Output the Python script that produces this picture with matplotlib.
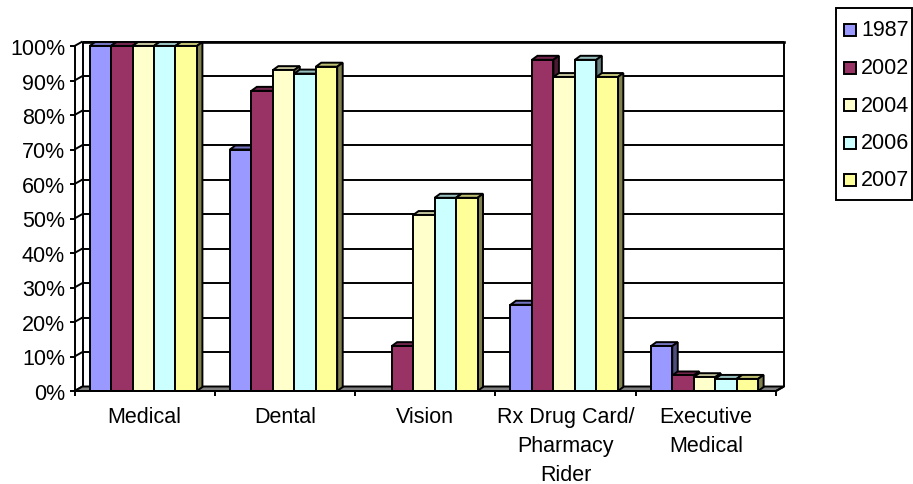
import matplotlib
matplotlib.use("Agg")
import matplotlib.pyplot as plt
from matplotlib.patches import Polygon, Rectangle
from matplotlib.colors import to_rgb

plt.rcParams['font.family'] = ['Liberation Sans', 'DejaVu Sans']

# ---- data ---------------------------------------------------------------
categories = ["Medical", "Dental", "Vision", "Rx Drug Card/\nPharmacy\nRider",
              "Executive\nMedical"]
years = ["1987", "2002", "2004", "2006", "2007"]
share_1987 = [100, 70, 0, 25, 13]
share_2002 = [100, 87, 13, 96, 4.5]
share_2004 = [100, 93, 51, 91, 4]
share_2006 = [100, 92, 56, 96, 3.5]
share_2007 = [100, 94, 56, 91, 3.5]
series = [share_1987, share_2002, share_2004, share_2006, share_2007]
colors = ["#9999FF", "#993366", "#FFFFCC", "#CCFFFF", "#FFFF99"]
yticks = list(range(0, 101, 10))

# ---- figure / axes in pixel layout ----------------------------------------
W, H, DPI = 913, 485, 100
fig = plt.figure(figsize=(W / DPI, H / DPI), dpi=DPI)
ax_l, ax_r, ax_b, ax_t = 74.5, 776.0, 392.0, 47.0
ax = fig.add_axes([ax_l / W, (H - ax_b) / H, (ax_r - ax_l) / W, (ax_b - ax_t) / H])
xmin, xmax, ymin, ymax = -0.5, len(categories) - 0.5, 0, 100
ax.set_xlim(xmin, xmax)
ax.set_ylim(ymin, ymax)

px_x = (xmax - xmin) / (ax_r - ax_l)
px_y = (ymax - ymin) / (ax_b - ax_t)

# depth offsets (oblique projection) for walls and for the columns
WDX, WDY = 8 * px_x, 4.5 * px_y
BDX, BDY = 5.5 * px_x, 4.0 * px_y

LW = 1.4
FS = 15.5
kw = dict(color="black", lw=LW, clip_on=False, solid_capstyle="butt")

# back wall gridlines and side-wall diagonals
for v in yticks:
    ax.plot([xmin + WDX, xmax + WDX], [v + WDY, v + WDY], zorder=1, **kw)
    ax.plot([xmin, xmin + WDX], [v, v + WDY], zorder=1, **kw)
ax.plot([xmin + WDX, xmax + WDX], [100 + WDY, 100 + WDY], color="black",
        lw=1.9, clip_on=False, zorder=1)
ax.plot([xmin + WDX, xmin + WDX], [WDY, 100 + WDY], zorder=1, **kw)
ax.plot([xmax + WDX, xmax + WDX], [WDY, 100 + WDY], zorder=1, **kw)

# floor
ax.add_patch(Polygon([(xmin, 0), (xmax, 0), (xmax + WDX, WDY), (xmin + WDX, WDY)],
                     closed=True, facecolor="#808080", edgecolor="black",
                     lw=LW, clip_on=False, zorder=2))

# columns
w = 0.153
shift = -0.01
xs = list(range(len(categories)))
for k, (vals, col) in enumerate(zip(series, colors)):
    rgb = to_rgb(col)
    top_c = tuple(c * 0.75 for c in rgb)
    side_c = tuple(c * 0.5 for c in rgb)
    z = 3 + k * 0.2
    lefts = [x - 2.5 * w + k * w + shift for x in xs]
    hs = [v if v > 0 else 0 for v in vals]
    bars = ax.bar(lefts, hs, width=w, align="edge", color=col, edgecolor="black",
                  linewidth=LW, zorder=z + 0.1, clip_on=False)
    for bar, v in zip(bars, vals):
        if v <= 0:
            bar.set_visible(False)
            continue
        x0 = bar.get_x()
        x1 = x0 + bar.get_width()
        top = bar.get_height()
        ax.add_patch(Polygon([(x0, top), (x1, top), (x1 + BDX, top + BDY),
                              (x0 + BDX, top + BDY)], closed=True,
                             facecolor=top_c, edgecolor="black", lw=LW,
                             clip_on=False, zorder=z))
        ax.add_patch(Polygon([(x1, 0), (x1 + BDX, BDY), (x1 + BDX, top + BDY),
                              (x1, top)], closed=True, facecolor=side_c,
                             edgecolor="black", lw=LW, clip_on=False, zorder=z))

# front right floor edge
ax.plot([xmax, xmax + WDX], [0, WDY], zorder=2, **kw)

# axes styling
for s in ("top", "right"):
    ax.spines[s].set_visible(False)
for s in ("left", "bottom"):
    ax.spines[s].set_linewidth(LW)
    ax.spines[s].set_zorder(10)
ax.set_yticks(yticks)
ax.set_yticklabels([f"{v}%" for v in yticks], fontsize=FS)
ax.tick_params(axis="y", length=3.8, width=LW, pad=3)
ax.set_xticks(xs)
ax.set_xticklabels(categories, fontsize=FS, linespacing=1.5)
ax.set_xticks([x - 0.5 for x in xs] + [xmax], minor=True)
ax.tick_params(axis="x", which="major", length=0, pad=11)
ax.tick_params(axis="x", which="minor", length=3.8, width=LW)
ax.patch.set_visible(False)

# legend box
def fx(px):
    return px / W

def fy(py):
    return 1 - py / H

fig.patches.append(Rectangle((fx(836), fy(201)), fx(912) - fx(836), fy(9) - fy(201),
                             transform=fig.transFigure, facecolor="white",
                             edgecolor="black", lw=1.4, zorder=5))
for i, (lab, col) in enumerate(zip(years, colors)):
    cy = 31.0 + i * 37.5
    fig.patches.append(Rectangle((fx(844), fy(cy + 6)), fx(856) - fx(844),
                                 fy(cy - 6) - fy(cy + 6),
                                 transform=fig.transFigure, facecolor=col,
                                 edgecolor="black", lw=1.4, zorder=6))
    fig.text(fx(861), fy(cy), lab, fontsize=FS, ha="left", va="center", zorder=7)

fig.savefig("out.png", dpi=DPI)
